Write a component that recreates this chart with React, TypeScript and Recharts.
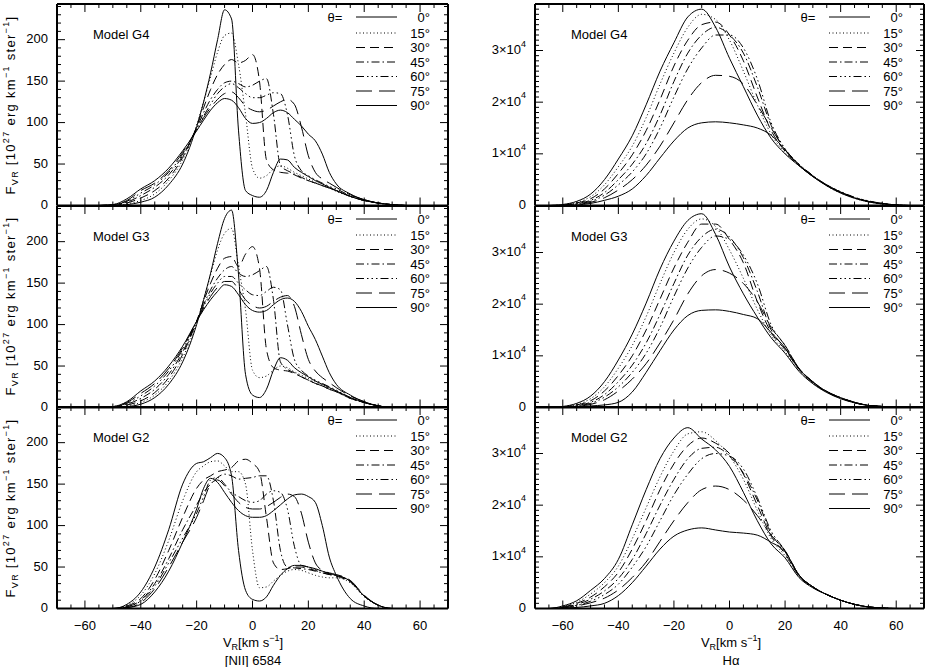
import React from 'react'
import { LineChart, Line, XAxis, YAxis, Legend } from 'recharts'

// velocity grids (km/s)
const vNii = [-55, -50, -45, -40, -35, -30, -25, -20, -17.5, -15, -12.5, -10, -7.5, -5, -2.5, 0, 2.5, 5, 7.5, 10, 12.5, 15, 17.5, 20, 22.5, 25, 27.5, 30, 35, 40, 45, 50, 55]
const vHa = [-70, -65, -60, -55, -50, -45, -40, -35, -30, -25, -20, -15, -10, -5, 0, 5, 10, 15, 20, 25, 30, 35, 40, 45, 50, 55, 60, 65, 70]

const angleLabels = ['0°', '15°', '30°', '45°', '60°', '75°', '90°']

// [NII] 6584 profiles, F_VR in 10^27 erg km^-1 ster^-1
const g4Nii0 = [0, 0, 1, 4, 10, 25, 50, 95, 125, 160, 200, 236, 225, 90, 18, 12, 10, 18, 40, 56, 55, 46, 40, 35, 30, 26, 22, 18, 11, 6, 3, 1, 0]
const g4Nii15 = [0, 0, 2, 6, 14, 30, 55, 97, 125, 155, 185, 205, 208, 170, 110, 45, 33, 36, 44, 48, 45, 40, 36, 32, 28, 24, 21, 17, 11, 6, 3, 1, 0]
const g4Nii30 = [0, 0, 3, 9, 18, 33, 58, 95, 118, 140, 158, 170, 176, 172, 175, 182, 150, 55, 43, 40, 39, 37, 33, 30, 27, 24, 21, 18, 11, 6, 3, 1, 0]
const g4Nii45 = [0, 1, 4, 12, 22, 37, 60, 93, 112, 128, 140, 148, 150, 147, 143, 145, 150, 153, 110, 48, 42, 38, 34, 30, 27, 24, 21, 18, 11, 6, 3, 1, 0]
const g4Nii60 = [0, 1, 5, 15, 25, 40, 62, 92, 108, 122, 135, 143, 147, 142, 135, 130, 130, 133, 136, 135, 110, 60, 42, 36, 31, 27, 23, 20, 12, 7, 3, 1, 0]
const g4Nii75 = [0, 1, 6, 18, 27, 42, 64, 92, 106, 118, 128, 135, 137, 130, 120, 115, 113, 115, 120, 125, 128, 122, 95, 60, 40, 32, 27, 22, 13, 7, 3, 1, 0]
const g4Nii90 = [0, 1, 8, 20, 30, 45, 66, 90, 103, 115, 124, 129, 127, 118, 105, 99, 100, 105, 112, 115, 112, 104, 96, 86, 78, 62, 40, 26, 14, 7, 3, 1, 0]

const g3Nii0 = [0, 0, 1, 4, 12, 28, 55, 100, 130, 162, 198, 228, 238, 160, 40, 15, 12, 22, 45, 60, 57, 48, 42, 37, 32, 28, 24, 20, 12, 6, 2, 0, 0]
const g3Nii15 = [0, 0, 2, 6, 15, 32, 60, 102, 130, 160, 190, 210, 216, 170, 118, 45, 36, 38, 45, 50, 48, 43, 39, 35, 31, 27, 23, 20, 12, 6, 2, 0, 0]
const g3Nii30 = [0, 0, 3, 8, 18, 36, 64, 104, 128, 150, 168, 180, 182, 170, 185, 194, 168, 70, 48, 45, 44, 41, 37, 33, 29, 26, 22, 19, 11, 6, 2, 0, 0]
const g3Nii45 = [0, 1, 4, 11, 22, 40, 67, 104, 124, 142, 156, 166, 170, 162, 158, 160, 165, 170, 130, 55, 46, 42, 37, 33, 29, 26, 22, 19, 11, 6, 2, 0, 0]
const g3Nii60 = [0, 1, 5, 14, 26, 44, 70, 104, 122, 138, 150, 158, 158, 150, 142, 136, 135, 140, 145, 142, 100, 58, 45, 38, 33, 29, 25, 21, 12, 6, 2, 0, 0]
const g3Nii75 = [0, 1, 6, 17, 29, 47, 72, 104, 120, 134, 145, 152, 152, 142, 130, 123, 120, 122, 128, 133, 135, 122, 88, 58, 44, 36, 30, 24, 14, 7, 2, 0, 0]
const g3Nii90 = [0, 1, 7, 20, 32, 50, 74, 104, 118, 130, 140, 148, 146, 136, 124, 117, 115, 117, 124, 130, 132, 128, 116, 98, 82, 62, 42, 28, 15, 7, 2, 0, 0]

const g2Nii0 = [0, 0, 5, 20, 50, 95, 150, 175, 177, 182, 187, 182, 160, 70, 22, 11, 9, 14, 28, 40, 48, 52, 52, 50, 48, 45, 42, 40, 33, 15, 4, 0, 0]
const g2Nii15 = [0, 0, 4, 16, 42, 82, 130, 165, 172, 177, 178, 172, 165, 165, 150, 70, 25, 26, 33, 40, 45, 47, 46, 43, 40, 38, 37, 37, 31, 14, 4, 0, 0]
const g2Nii30 = [0, 0, 3, 12, 35, 70, 110, 145, 155, 160, 165, 167, 170, 178, 180, 175, 165, 110, 55, 47, 48, 50, 50, 48, 46, 43, 41, 39, 32, 15, 4, 0, 0]
const g2Nii45 = [0, 0, 2, 10, 30, 60, 95, 125, 140, 150, 158, 162, 160, 156, 157, 158, 160, 160, 130, 70, 50, 49, 48, 47, 45, 43, 41, 40, 33, 15, 4, 0, 0]
const g2Nii60 = [0, 0, 2, 9, 27, 55, 85, 115, 135, 155, 158, 150, 140, 135, 130, 128, 130, 138, 142, 140, 120, 75, 52, 50, 47, 45, 42, 40, 33, 15, 4, 0, 0]
const g2Nii75 = [0, 0, 1, 7, 24, 50, 80, 110, 130, 150, 155, 148, 138, 128, 122, 120, 120, 123, 128, 134, 138, 135, 115, 80, 55, 46, 43, 41, 34, 16, 4, 0, 0]
const g2Nii90 = [0, 0, 1, 5, 20, 45, 80, 120, 145, 157, 152, 140, 128, 118, 112, 110, 110, 112, 118, 125, 132, 137, 138, 135, 128, 100, 62, 40, 12, 3, 0, 0, 0]

// H-alpha profiles, in units of 10^4
const g4Ha0 = [0, 0, 0.02, 0.08, 0.22, 0.5, 0.9, 1.35, 1.95, 2.6, 3.15, 3.65, 3.8, 3.45, 2.85, 2.3, 1.75, 1.3, 1.0, 0.77, 0.56, 0.38, 0.24, 0.14, 0.07, 0.03, 0.01, 0, 0]
const g4Ha15 = [0, 0, 0.01, 0.06, 0.17, 0.4, 0.75, 1.15, 1.7, 2.35, 2.95, 3.45, 3.7, 3.6, 3.2, 2.6, 1.95, 1.38, 1.02, 0.77, 0.56, 0.38, 0.24, 0.14, 0.07, 0.03, 0.01, 0, 0]
const g4Ha30 = [0, 0, 0.01, 0.05, 0.13, 0.32, 0.62, 0.98, 1.45, 2.05, 2.7, 3.2, 3.5, 3.55, 3.3, 2.8, 2.1, 1.45, 1.05, 0.78, 0.57, 0.39, 0.25, 0.15, 0.08, 0.03, 0.01, 0, 0]
const g4Ha45 = [0, 0, 0.01, 0.04, 0.1, 0.25, 0.5, 0.8, 1.2, 1.75, 2.4, 2.95, 3.3, 3.45, 3.3, 2.95, 2.3, 1.55, 1.08, 0.8, 0.58, 0.4, 0.26, 0.15, 0.08, 0.04, 0.01, 0, 0]
const g4Ha60 = [0, 0, 0, 0.03, 0.08, 0.2, 0.4, 0.65, 1.0, 1.5, 2.1, 2.65, 3.05, 3.3, 3.3, 3.05, 2.45, 1.6, 1.1, 0.8, 0.58, 0.4, 0.27, 0.16, 0.09, 0.04, 0.01, 0, 0]
const g4Ha75 = [0, 0, 0, 0.02, 0.06, 0.15, 0.3, 0.5, 0.78, 1.15, 1.6, 2.05, 2.38, 2.52, 2.5, 2.35, 1.95, 1.5, 1.08, 0.78, 0.57, 0.39, 0.26, 0.15, 0.08, 0.04, 0.01, 0, 0]
const g4Ha90 = [0, 0, 0, 0.01, 0.04, 0.1, 0.18, 0.32, 0.58, 0.92, 1.25, 1.5, 1.6, 1.62, 1.6, 1.56, 1.5, 1.36, 1.08, 0.78, 0.56, 0.39, 0.26, 0.15, 0.08, 0.04, 0.01, 0, 0]

const g3Ha0 = [0, 0, 0.02, 0.08, 0.22, 0.5, 0.92, 1.42, 2.02, 2.68, 3.22, 3.62, 3.75, 3.35, 2.72, 2.2, 1.75, 1.35, 1.05, 0.7, 0.46, 0.29, 0.17, 0.09, 0.04, 0.02, 0, 0, 0]
const g3Ha15 = [0, 0, 0.01, 0.06, 0.17, 0.4, 0.76, 1.2, 1.76, 2.4, 3.0, 3.45, 3.65, 3.5, 3.05, 2.5, 1.9, 1.4, 1.08, 0.72, 0.47, 0.3, 0.18, 0.09, 0.04, 0.02, 0, 0, 0]
const g3Ha30 = [0, 0, 0.01, 0.05, 0.13, 0.32, 0.62, 1.0, 1.5, 2.1, 2.7, 3.2, 3.55, 3.55, 3.25, 2.8, 2.05, 1.45, 1.12, 0.74, 0.48, 0.3, 0.18, 0.09, 0.04, 0.02, 0, 0, 0]
const g3Ha45 = [0, 0, 0.01, 0.04, 0.1, 0.25, 0.5, 0.82, 1.25, 1.8, 2.4, 2.95, 3.3, 3.45, 3.3, 2.9, 2.25, 1.5, 1.15, 0.75, 0.49, 0.31, 0.19, 0.1, 0.04, 0.02, 0, 0, 0]
const g3Ha60 = [0, 0, 0, 0.03, 0.08, 0.2, 0.4, 0.68, 1.05, 1.55, 2.15, 2.7, 3.1, 3.32, 3.25, 2.95, 2.4, 1.6, 1.2, 0.76, 0.5, 0.31, 0.19, 0.1, 0.04, 0.02, 0, 0, 0]
const g3Ha75 = [0, 0, 0, 0.02, 0.06, 0.15, 0.32, 0.55, 0.85, 1.25, 1.7, 2.2, 2.55, 2.67, 2.6, 2.4, 2.05, 1.55, 1.2, 0.76, 0.5, 0.31, 0.19, 0.1, 0.04, 0.02, 0, 0, 0]
const g3Ha90 = [0, 0, 0, 0.01, 0.03, 0.05, 0.1, 0.3, 0.68, 1.1, 1.5, 1.78, 1.88, 1.89, 1.86, 1.8, 1.72, 1.45, 1.15, 0.75, 0.49, 0.31, 0.19, 0.1, 0.04, 0.02, 0, 0, 0]

const g2Ha0 = [0, 0, 0.05, 0.15, 0.35, 0.58, 0.95, 1.62, 2.3, 2.9, 3.3, 3.5, 3.28, 3.07, 2.75, 2.25, 1.7, 1.25, 0.98, 0.6, 0.4, 0.27, 0.16, 0.08, 0.03, 0.01, 0, 0, 0]
const g2Ha15 = [0, 0, 0.04, 0.12, 0.28, 0.5, 0.82, 1.35, 1.95, 2.55, 3.05, 3.38, 3.42, 3.25, 2.95, 2.5, 1.9, 1.35, 1.02, 0.62, 0.41, 0.27, 0.16, 0.08, 0.03, 0.01, 0, 0, 0]
const g2Ha30 = [0, 0, 0.03, 0.1, 0.22, 0.42, 0.7, 1.15, 1.7, 2.3, 2.8, 3.15, 3.3, 3.2, 3.0, 2.6, 2.0, 1.4, 1.06, 0.63, 0.41, 0.27, 0.16, 0.08, 0.03, 0.01, 0, 0, 0]
const g2Ha45 = [0, 0, 0.02, 0.08, 0.18, 0.34, 0.58, 0.95, 1.45, 2.0, 2.5, 2.9, 3.1, 3.12, 2.95, 2.62, 2.1, 1.45, 1.1, 0.64, 0.42, 0.27, 0.16, 0.08, 0.03, 0.01, 0, 0, 0]
const g2Ha60 = [0, 0, 0.02, 0.06, 0.14, 0.27, 0.47, 0.8, 1.2, 1.7, 2.2, 2.6, 2.9, 3.0, 2.95, 2.7, 2.15, 1.5, 1.12, 0.65, 0.42, 0.27, 0.16, 0.08, 0.03, 0.01, 0, 0, 0]
const g2Ha75 = [0, 0, 0.01, 0.05, 0.11, 0.2, 0.36, 0.6, 0.9, 1.3, 1.7, 2.05, 2.3, 2.37, 2.3, 2.1, 1.8, 1.42, 1.12, 0.65, 0.42, 0.27, 0.16, 0.08, 0.03, 0.01, 0, 0, 0]
const g2Ha90 = [0, 0, 0.01, 0.02, 0.05, 0.1, 0.25, 0.5, 0.82, 1.15, 1.4, 1.52, 1.56, 1.52, 1.48, 1.46, 1.42, 1.28, 1.1, 0.65, 0.42, 0.27, 0.16, 0.08, 0.03, 0.01, 0, 0, 0]

// axis ticks
const xMajor = [-60, -40, -20, 0, 20, 40, 60]
const xTicks = Array.from({ length: 29 }, (_, i) => -70 + 5 * i)
const niiMajor = [0, 50, 100, 150, 200]
const niiTicks = Array.from({ length: 25 }, (_, i) => 10 * i)
const haMajor = [0, 1, 2, 3]
const haTicks = Array.from({ length: 40 }, (_, i) => i / 10)

// IDL linestyles 0..5 plus solid again for 90°
const dashes = ['', '1 2.5', '9 5', '8 3 1.5 3', '8 3 1.5 3 1.5 3 1.5 3', '16 7', '']

const PLOT_H = 201.5
const PAD_T = 4
const PAD_B = 60
const frame = { stroke: '#000', strokeWidth: 2 }

const toRows = (v: number[], series: number[][]) =>
  v.map((x, i) => {
    const row: Record<string, number> = { v: x }
    series.forEach((s, k) => { row[`a${k}`] = s[i] })
    return row
  })

function XTick(props: any) {
  const { x, y, payload, dir, showLabel } = props
  const v = payload.value
  const major = xMajor.includes(v)
  return (
    <g>
      <line x1={x} y1={y} x2={x} y2={y + dir * (major ? 8 : 4)} stroke="#000" strokeWidth={1} />
      {showLabel && major && (
        <text x={x} y={y + 17} textAnchor="middle" dominantBaseline="central" fontSize={13} fill="#000">
          {v < 0 ? `\u2212${-v}` : v}
        </text>
      )}
    </g>
  )
}

function YTick(props: any) {
  const { x, y, payload, dir, kind, showLabel } = props
  const v = payload.value
  const major = kind === 'nii'
    ? niiMajor.includes(v)
    : haMajor.some((m) => Math.abs(m - v) < 1e-6)
  return (
    <g>
      <line x1={x} y1={y} x2={x + dir * (major ? 8 : 4)} y2={y} stroke="#000" strokeWidth={1} />
      {showLabel && major && (
        <text x={x - 9} y={y - 1} textAnchor="end" dominantBaseline="central" fontSize={13} fill="#000">
          {kind === 'nii' || v === 0 ? String(Math.round(v)) : (
            <>
              {`${Math.round(v)}×10`}
              <tspan dy={-6} fontSize={9}>4</tspan>
            </>
          )}
        </text>
      )}
    </g>
  )
}

function LegendBox() {
  return (
    <svg width={115} height={110} style={{ display: 'block' }}>
      <text x={13} y={7} textAnchor="middle" dominantBaseline="central" fontSize={13} fill="#000">θ=</text>
      {angleLabels.map((a, i) => {
        const y = 7 + (i === 0 ? 0 : 16 + (i - 1) * 14.5)
        return (
          <g key={a}>
            <line x1={34} x2={75} y1={y} y2={y} stroke="#000" strokeWidth={1} strokeDasharray={dashes[i] || undefined} />
            <text x={108} y={y} textAnchor="end" dominantBaseline="central" fontSize={13} fill="#000">{a}</text>
          </g>
        )
      })}
    </svg>
  )
}

function Sub({ children }: { children: React.ReactNode }) {
  return <span style={{ fontSize: 9, position: 'relative', top: 3 }}>{children}</span>
}
function Sup({ children }: { children: React.ReactNode }) {
  return <span style={{ fontSize: 9, position: 'relative', top: -6 }}>{children}</span>
}

function Panel({ kind, top, model, v, series, showX }: {
  kind: 'nii' | 'ha'
  top: number
  model: string
  v: number[]
  series: number[][]
  showX: boolean
}) {
  const isNii = kind === 'nii'
  const left = isNii ? 0 : 470
  const padL = isNii ? 57 : 65
  const padR = isNii ? 22 : 2
  const plotW = isNii ? 391 : 389
  const W = padL + plotW + padR
  const H = PAD_T + PLOT_H + PAD_B
  const rows = toRows(v, series)

  return (
    <div style={{ position: 'absolute', left, top: top - PAD_T, width: W, height: H }}>
      <LineChart width={W} height={H} data={rows} margin={{ top: 0, right: 0, bottom: 0, left: 0 }}>
        <XAxis xAxisId="b" dataKey="v" type="number" domain={[-70, 70]} allowDataOverflow
          ticks={xTicks} interval={0} orientation="bottom" height={PAD_B}
          tickSize={0} tickMargin={0} tickLine={false} axisLine={frame}
          tick={<XTick dir={-1} showLabel={showX} />} />
        <XAxis xAxisId="t" dataKey="v" type="number" domain={[-70, 70]} allowDataOverflow
          ticks={xTicks} interval={0} orientation="top" height={PAD_T}
          tickSize={0} tickMargin={0} tickLine={false} axisLine={frame}
          tick={<XTick dir={1} showLabel={false} />} />
        <YAxis yAxisId="l" type="number" domain={[0, isNii ? 243 : 3.9]} allowDataOverflow
          ticks={isNii ? niiTicks : haTicks} interval={0} orientation="left" width={padL}
          tickSize={0} tickMargin={0} tickLine={false} axisLine={frame}
          tick={<YTick dir={1} kind={kind} showLabel />} />
        <YAxis yAxisId="r" type="number" domain={[0, isNii ? 243 : 3.9]} allowDataOverflow
          ticks={isNii ? niiTicks : haTicks} interval={0} orientation="right" width={padR}
          tickSize={0} tickMargin={0} tickLine={false} axisLine={frame}
          tick={<YTick dir={-1} kind={kind} showLabel={false} />} />
        {angleLabels.map((a, i) => (
          <Line key={a} xAxisId="b" yAxisId="l" dataKey={`a${i}`} name={a} type="monotone"
            stroke="#000" strokeWidth={1} strokeDasharray={dashes[i] || undefined}
            dot={false} activeDot={false} isAnimationActive={false} />
        ))}
        <Legend layout="horizontal" verticalAlign="middle" align="center"
          wrapperStyle={{ position: 'absolute', left: isNii ? 322 : 325, top: PAD_T + 6, width: 115, height: 110 }}
          content={() => <LegendBox />} />
      </LineChart>
      <div style={{ position: 'absolute', left: padL + 36, top: PAD_T + 30, transform: 'translateY(-50%)', fontSize: 13, whiteSpace: 'nowrap' }}>
        Model {model}
      </div>
      {isNii && (
        <div style={{
          position: 'absolute', left: 11, top: PAD_T + PLOT_H / 2,
          transform: 'translate(-50%, -50%) rotate(-90deg)', fontSize: 13,
          whiteSpace: 'nowrap', letterSpacing: 1.3, lineHeight: '14px',
        }}>
          F<Sub>VR</Sub> [10<Sup>27</Sup> erg km<Sup>−1</Sup> ster<Sup>−1</Sup>]
        </div>
      )}
    </div>
  )
}

const panelTops = [4, 205.5, 407]

export default function App() {
  return (
    <div style={{
      position: 'absolute', left: 0, top: 0, width: 926, height: 667, overflow: 'hidden',
      background: '#fff', color: '#000', fontFamily: '"Liberation Sans", Arial, sans-serif',
    }}>
      <Panel kind="nii" top={panelTops[0]} model="G4" v={vNii} showX={false}
        series={[g4Nii0, g4Nii15, g4Nii30, g4Nii45, g4Nii60, g4Nii75, g4Nii90]} />
      <Panel kind="nii" top={panelTops[1]} model="G3" v={vNii} showX={false}
        series={[g3Nii0, g3Nii15, g3Nii30, g3Nii45, g3Nii60, g3Nii75, g3Nii90]} />
      <Panel kind="nii" top={panelTops[2]} model="G2" v={vNii} showX
        series={[g2Nii0, g2Nii15, g2Nii30, g2Nii45, g2Nii60, g2Nii75, g2Nii90]} />
      <Panel kind="ha" top={panelTops[0]} model="G4" v={vHa} showX={false}
        series={[g4Ha0, g4Ha15, g4Ha30, g4Ha45, g4Ha60, g4Ha75, g4Ha90]} />
      <Panel kind="ha" top={panelTops[1]} model="G3" v={vHa} showX={false}
        series={[g3Ha0, g3Ha15, g3Ha30, g3Ha45, g3Ha60, g3Ha75, g3Ha90]} />
      <Panel kind="ha" top={panelTops[2]} model="G2" v={vHa} showX
        series={[g2Ha0, g2Ha15, g2Ha30, g2Ha45, g2Ha60, g2Ha75, g2Ha90]} />

      {/* x-axis titles under the bottom row */}
      {[{ cx: 253, line: '[NII] 6584' }, { cx: 731, line: 'Hα' }].map((t) => (
        <React.Fragment key={t.line}>
          <div style={{ position: 'absolute', left: t.cx, top: 643, transform: 'translate(-50%, -50%)', fontSize: 13, whiteSpace: 'nowrap', lineHeight: '13px' }}>
            V<Sub>R</Sub>[km s<Sup>−1</Sup>]
          </div>
          <div style={{ position: 'absolute', left: t.cx, top: 660, transform: 'translate(-50%, -50%)', fontSize: 13, whiteSpace: 'nowrap', lineHeight: '13px' }}>
            {t.line}
          </div>
        </React.Fragment>
      ))}
    </div>
  )
}
